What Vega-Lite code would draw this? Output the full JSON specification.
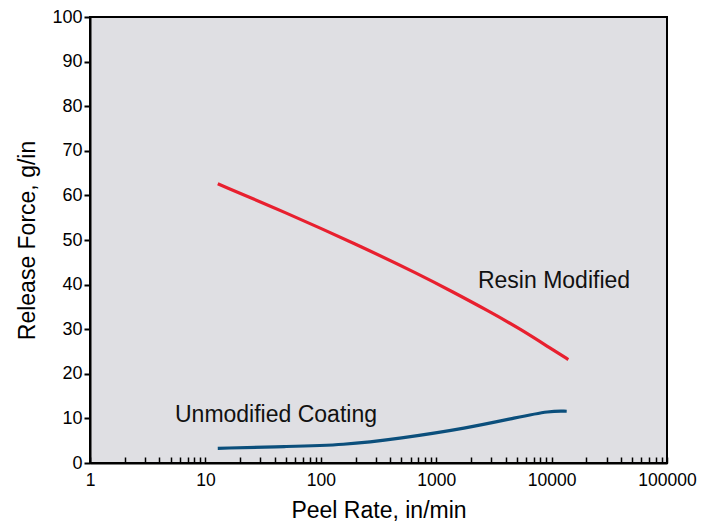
{
  "$schema": "https://vega.github.io/schema/vega-lite/v6.json",
  "width": 577,
  "height": 446,
  "padding": {"left": 90, "top": 17, "right": 44, "bottom": 64},
  "autosize": {"type": "none"},
  "background": "white",
  "config": {
    "font": "Liberation Sans",
    "view": {"fill": "#dfdfe3", "stroke": "black", "strokeWidth": 2}
  },
  "datasets": {
    "lines": [
      {"series": "Resin Modified", "rate": 12.8, "force": 62.6},
      {"series": "Resin Modified", "rate": 47.3, "force": 56.4},
      {"series": "Resin Modified", "rate": 205, "force": 49.0},
      {"series": "Resin Modified", "rate": 724, "force": 42.2},
      {"series": "Resin Modified", "rate": 1406, "force": 38.3},
      {"series": "Resin Modified", "rate": 2740, "force": 34.3},
      {"series": "Resin Modified", "rate": 5320, "force": 30.1},
      {"series": "Resin Modified", "rate": 10350, "force": 25.3},
      {"series": "Resin Modified", "rate": 13960, "force": 23.2},
      {"series": "Unmodified Coating", "rate": 12.8, "force": 3.3},
      {"series": "Unmodified Coating", "rate": 50, "force": 3.7},
      {"series": "Unmodified Coating", "rate": 157, "force": 4.0},
      {"series": "Unmodified Coating", "rate": 486, "force": 5.5},
      {"series": "Unmodified Coating", "rate": 1837, "force": 7.8},
      {"series": "Unmodified Coating", "rate": 4985, "force": 10.2},
      {"series": "Unmodified Coating", "rate": 9680, "force": 11.7},
      {"series": "Unmodified Coating", "rate": 13520, "force": 11.6}
    ],
    "labels": [
      {"text": "Resin Modified", "rate": 2300, "force": 39.2},
      {"text": "Unmodified Coating", "rate": 5.45, "force": 9.2}
    ]
  },
  "encoding": {
    "x": {
      "field": "rate", "type": "quantitative",
      "scale": {"type": "log", "domain": [1, 100000], "nice": false},
      "axis": {
        "title": "Peel Rate, in/min",
        "titleFontSize": 23, "titleFontWeight": "normal", "titleColor": "black", "titlePadding": 11,
        "values": [1,2,3,4,5,6,7,8,9,10,20,30,40,50,60,70,80,90,100,200,300,400,500,600,700,800,900,1000,2000,3000,4000,5000,6000,7000,8000,9000,10000,20000,30000,40000,50000,60000,70000,80000,90000,100000],
        "labelExpr": "indexof([1,10,100,1000,10000,100000], datum.value) >= 0 ? format(datum.value, 'd') : ''",
        "labelOverlap": false,
        "labelFontSize": 17.5, "labelColor": "black", "labelPadding": 14,
        "tickSize": -6, "tickColor": "black", "tickWidth": 1.5,
        "domainColor": "black", "domainWidth": 2,
        "grid": false, "labelFlush": false
      }
    },
    "y": {
      "field": "force", "type": "quantitative",
      "scale": {"domain": [0, 100], "nice": false},
      "axis": {
        "title": "Release Force, g/in",
        "titleFontSize": 23, "titleFontWeight": "normal", "titleColor": "black", "titlePadding": 12,
        "values": [0,10,20,30,40,50,60,70,80,90,100],
        "labelFontSize": 18, "labelColor": "black", "labelPadding": 2,
        "tickSize": 6, "tickColor": "black", "tickWidth": 2,
        "domainColor": "black", "domainWidth": 2,
        "grid": false
      }
    }
  },
  "layer": [
    {
      "data": {"name": "lines"},
      "mark": {"type": "line", "interpolate": "basis", "strokeWidth": 3.2},
      "encoding": {
        "color": {
          "field": "series", "type": "nominal",
          "scale": {"domain": ["Resin Modified", "Unmodified Coating"], "range": ["#e8202f", "#0b4f7c"]},
          "legend": null
        }
      }
    },
    {
      "data": {"name": "labels"},
      "mark": {"type": "text", "align": "left", "baseline": "alphabetic", "fontSize": 23, "color": "#111"},
      "encoding": {"text": {"field": "text"}}
    }
  ]
}
